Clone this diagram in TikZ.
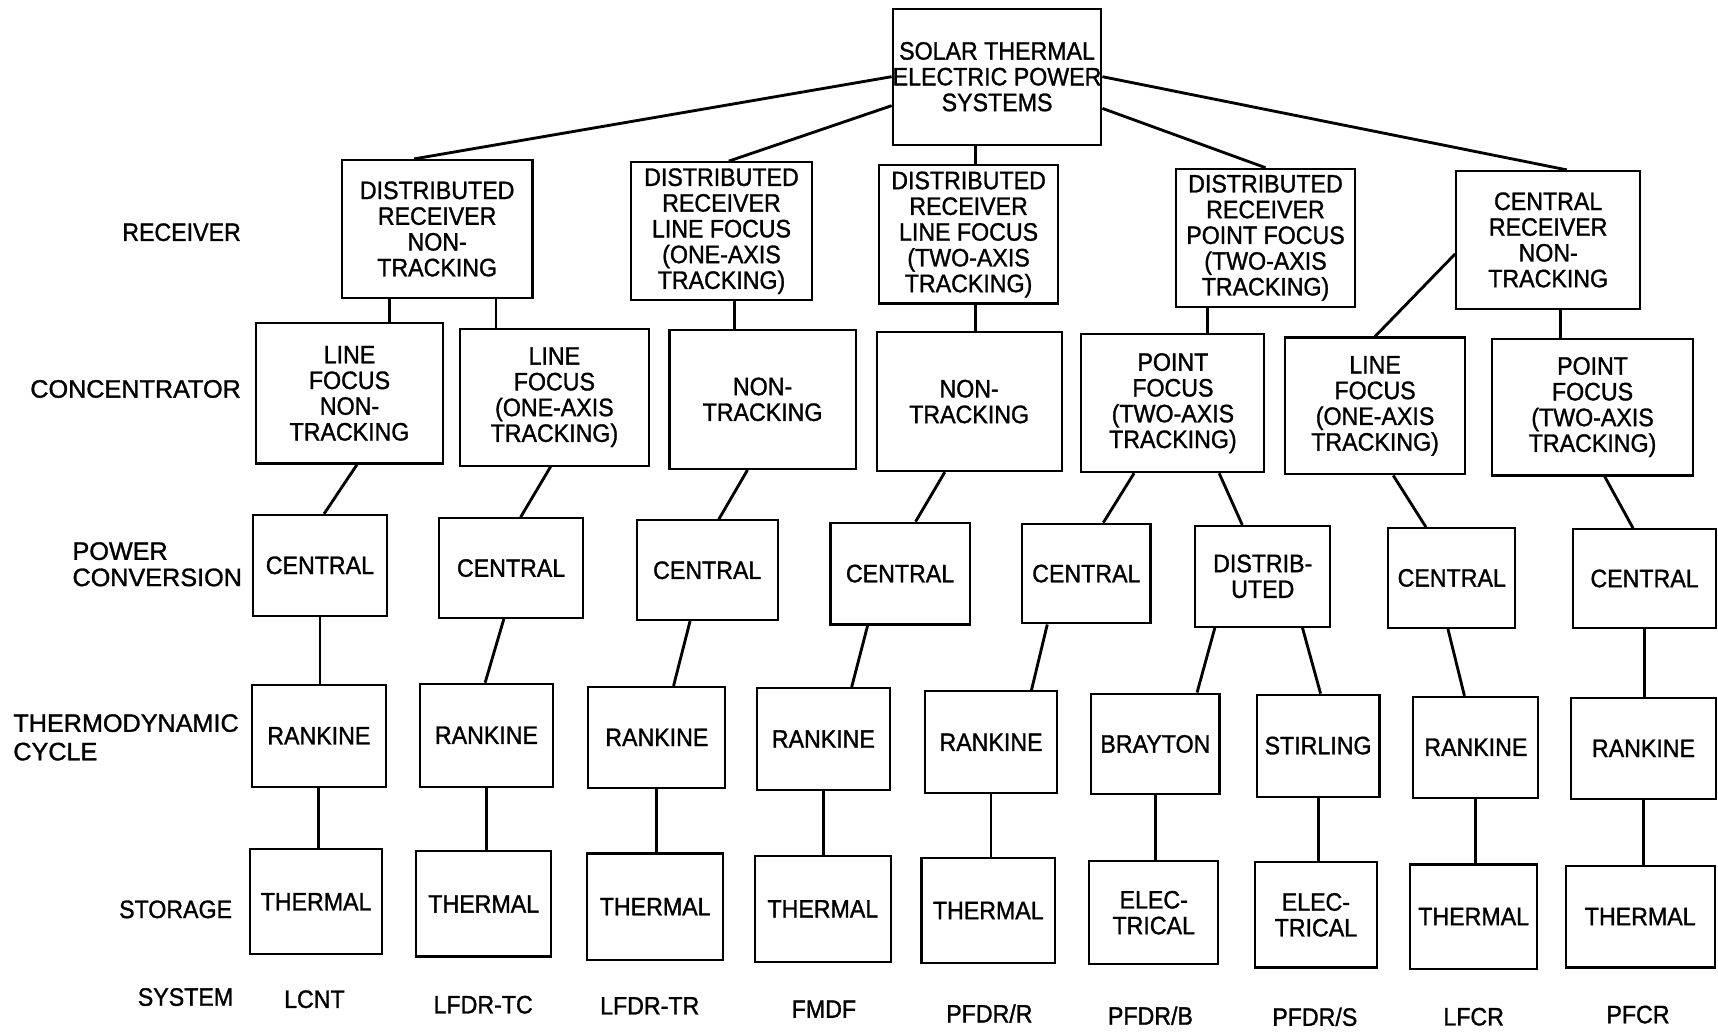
\documentclass[tikz,border=0pt]{standalone}
\usepackage{fontspec}
\setmainfont[FakeStretch=0.92,FakeBold=1.2]{Liberation Sans}
\newfontfamily\stewide[FakeStretch=1.0,FakeBold=1.2]{Liberation Sans}
\usetikzlibrary{calc}
\newcommand{\stefont}{\fontsize{23}{23.5}\selectfont}

\begin{document}
\begin{tikzpicture}[x=1pt,y=-1pt]
            \tikzset{
            stp box/.style={draw,line width=1.9pt,align=center,inner sep=0pt,font=\stefont},
            stp size/.style 2 args={minimum width=#1,minimum height=#2},
            stp edge/.style={line width=2.6pt},
            stp label/.style={font=\stefont,inner sep=0pt},
            stp title/.style={font=\stewide\stefont,inner sep=0pt}
            }
            \useasboundingbox (0,0) rectangle (1568,941);

            % row titles
            \node[stp label,anchor=east] (lrec) at (220,212) {RECEIVER};
            \node[stp title,anchor=east] (lcon) at (220,355) {CONCENTRATOR};
            \node[stp title,anchor=west,align=left,font={\stewide\fontsize{23}{24}\selectfont}] (lpow) at (66,515) {POWER\\CONVERSION};
            \node[stp title,anchor=west,align=left,font={\stewide\fontsize{23}{26}\selectfont}] (lthe) at (12,673) {THERMODYNAMIC\\CYCLE};
            \node[stp label,anchor=east] (lsto) at (212,830) {STORAGE};
            \node[stp label,anchor=east] (lsys) at (213,910) {SYSTEM};

            % top
            \node[stp box,stp size={190}{124}] (top) at (910,70) {SOLAR THERMAL\\ELECTRIC POWER\\SYSTEMS};

            % receiver
            \node[stp box,stp size={174}{126}] (r1) at (399,209) {DISTRIBUTED\\RECEIVER\\NON-\\TRACKING};
            \node[stp box,stp size={165}{126}] (r2) at (658.5,211) {DISTRIBUTED\\RECEIVER\\LINE FOCUS\\(ONE-AXIS\\TRACKING)};
            \node[stp box,stp size={164}{126}] (r3) at (884,214) {DISTRIBUTED\\RECEIVER\\LINE FOCUS\\(TWO-AXIS\\TRACKING)};
            \node[stp box,stp size={164}{126}] (r4) at (1155,217) {DISTRIBUTED\\RECEIVER\\POINT FOCUS\\(TWO-AXIS\\TRACKING)};
            \node[stp box,stp size={168}{126}] (r5) at (1413,219) {CENTRAL\\RECEIVER\\NON-\\TRACKING};

            % concentrator
            \node[stp box,stp size={170}{128}] (c1) at (319,359) {LINE\\FOCUS\\NON-\\TRACKING};
            \node[stp box,stp size={172}{125}] (c2) at (506,362.5) {LINE\\FOCUS\\(ONE-AXIS\\TRACKING)};
            \node[stp box,stp size={170}{127}] (c3) at (696,364.5) {NON-\\TRACKING};
            \node[stp box,stp size={169}{127}] (c4) at (884.5,366.5) {NON-\\TRACKING};
            \node[stp box,stp size={167}{126}] (c5) at (1070.5,368) {POINT\\FOCUS\\(TWO-AXIS\\TRACKING)};
            \node[stp box,stp size={164}{125}] (c6) at (1255,370.5) {LINE\\FOCUS\\(ONE-AXIS\\TRACKING)};
            \node[stp box,stp size={183}{125}] (c7) at (1453.5,371.5) {POINT\\FOCUS\\(TWO-AXIS\\TRACKING)};

            % power conversion
            \node[stp box,stp size={122}{92}] (p1) at (292,516) {CENTRAL};
            \node[stp box,stp size={131}{91}] (p2) at (466.5,518.5) {CENTRAL};
            \node[stp box,stp size={129}{91}] (p3) at (645.5,520.5) {CENTRAL};
            \node[stp box,stp size={127}{93}] (p4) at (821.5,523.5) {CENTRAL};
            \node[stp box,stp size={117}{91}] (p5) at (991.5,523.5) {CENTRAL};
            \node[stp box,stp size={123}{92}] (p6) at (1152.5,526) {DISTRIB-\\UTED};
            \node[stp box,stp size={116}{91}] (p7) at (1325,527.5) {CENTRAL};
            \node[stp box,stp size={130}{90}] (p8) at (1501,528) {CENTRAL};

            % thermodynamic cycle
            \node[stp box,stp size={122}{93}] (t1) at (291,671.5) {RANKINE};
            \node[stp box,stp size={122}{94}] (t2) at (444,671) {RANKINE};
            \node[stp box,stp size={125}{92}] (t3) at (599.5,673) {RANKINE};
            \node[stp box,stp size={121}{93}] (t4) at (751.5,674.5) {RANKINE};
            \node[stp box,stp size={121}{93}] (t5) at (904.5,677.5) {RANKINE};
            \node[stp box,stp size={117}{92}] (t6) at (1054.5,679) {BRAYTON};
            \node[stp box,stp size={112}{93}] (t7) at (1203,680.5) {STIRLING};
            \node[stp box,stp size={114}{92}] (t8) at (1347,682) {RANKINE};
            \node[stp box,stp size={132}{92}] (t9) at (1500,683) {RANKINE};

            % storage
            \node[stp box,stp size={121}{96}] (s1) at (288.5,823) {THERMAL};
            \node[stp box,stp size={123}{96}] (s2) at (441.5,825) {THERMAL};
            \node[stp box,stp size={124}{97}] (s3) at (598,827.5) {THERMAL};
            \node[stp box,stp size={124}{97}] (s4) at (751,829.5) {THERMAL};
            \node[stp box,stp size={122}{96}] (s5) at (902,831) {THERMAL};
            \node[stp box,stp size={118}{94}] (s6) at (1053,833) {ELEC-\\TRICAL};
            \node[stp box,stp size={112}{96}] (s7) at (1201,835) {ELEC-\\TRICAL};
            \node[stp box,stp size={116}{95}] (s8) at (1345,836.5) {THERMAL};
            \node[stp box,stp size={136}{93}] (s9) at (1497,836.5) {THERMAL};

            % system names
            \node[stp label] (y1) at (287,912) {LCNT};
            \node[stp label] (y2) at (441,917) {LFDR-TC};
            \node[stp label] (y3) at (593,918) {LFDR-TR};
            \node[stp label] (y4) at (752,921) {FMDF};
            \node[stp label] (y5) at (903,925) {PFDR/R};
            \node[stp label] (y6) at (1050,927) {PFDR/B};
            \node[stp label] (y7) at (1200,928) {PFDR/S};
            \node[stp label] (y8) at (1345,928) {LFCR};
            \node[stp label] (y9) at (1495,926) {PFCR};

            % feet of the vertical links
            \coordinate (k3) at ($(r3.north west)!.537!(r3.north east)$);
            \coordinate (v1) at ($(r1.south west)!.253!(r1.south east)$);
            \coordinate (v2) at ($(r1.south west)!.805!(r1.south east)$);
            \coordinate (v3) at ($(r2.south west)!.57!(r2.south east)$);
            \coordinate (v4) at ($(r3.south west)!.537!(r3.south east)$);
            \coordinate (v5) at ($(r4.south west)!.183!(r4.south east)$);
            \coordinate (v7) at ($(r5.south west)!.565!(r5.south east)$);

            \path[draw,stp edge]
            (top.west) edge ($(r1.north west)!.38!(r1.north east)$)
            ($(top.north west)!.71!(top.south west)$) edge ($(r2.north west)!.54!(r2.north east)$)
            (k3) edge (k3 |- top.south)
            ($(top.north east)!.73!(top.south east)$) edge (r4.north)
            (top.east) edge ($(r5.north west)!.6!(r5.north east)$)
            (v1) edge (v1 |- c1.north)
            (v2) edge (v2 |- c2.north)
            (v3) edge (v3 |- c3.north)
            (v4) edge (v4 |- c4.north)
            (v5) edge (v5 |- c5.north)
            ($(r5.north west)!.6!(r5.south west)$) edge (c6.north)
            (v7) edge (v7 |- c7.north)
            ($(c1.south west)!.54!(c1.south east)$) edge ($(p1.north west)!.53!(p1.north east)$)
            ($(c2.south west)!.48!(c2.south east)$) edge ($(p2.north west)!.565!(p2.north east)$)
            ($(c3.south west)!.42!(c3.south east)$) edge ($(p3.north west)!.58!(p3.north east)$)
            ($(c4.south west)!.37!(c4.south east)$) edge ($(p4.north west)!.61!(p4.north east)$)
            ($(c5.south west)!.29!(c5.south east)$) edge ($(p5.north west)!.63!(p5.north east)$)
            ($(c5.south west)!.75!(c5.south east)$) edge ($(p6.north west)!.35!(p6.north east)$)
            ($(c6.south west)!.60!(c6.south east)$) edge ($(p7.north west)!.30!(p7.north east)$)
            ($(c7.south west)!.56!(c7.south east)$) edge ($(p8.north west)!.42!(p8.north east)$)
            (p1.south) edge (p1.south |- t1.north)
            ($(p2.south west)!.45!(p2.south east)$) edge ($(t2.north west)!.49!(t2.north east)$)
            ($(p3.south west)!.38!(p3.south east)$) edge ($(t3.north west)!.62!(t3.north east)$)
            ($(p4.south west)!.27!(p4.south east)$) edge ($(t4.north west)!.71!(t4.north east)$)
            ($(p5.south west)!.2!(p5.south east)$) edge ($(t5.north west)!.8!(t5.north east)$)
            ($(p6.south west)!.15!(p6.south east)$) edge ($(t6.north west)!.82!(t6.north east)$)
            ($(p6.south west)!.79!(p6.south east)$) edge ($(t7.north west)!.52!(t7.north east)$)
            ($(p7.south west)!.47!(p7.south east)$) edge ($(t8.north west)!.41!(t8.north east)$)
            (p8.south) edge (p8.south |- t9.north)
            (t1.south) edge (t1.south |- s1.north)
            (t2.south) edge (t2.south |- s2.north)
            (t3.south) edge (t3.south |- s3.north)
            (t4.south) edge (t4.south |- s4.north)
            (t5.south) edge (t5.south |- s5.north)
            (t6.south) edge (t6.south |- s6.north)
            (t7.south) edge (t7.south |- s7.north)
            (t8.south) edge (t8.south |- s8.north)
            (t9.south) edge (t9.south |- s9.north)
            ;
        \end{tikzpicture}
\end{document}
